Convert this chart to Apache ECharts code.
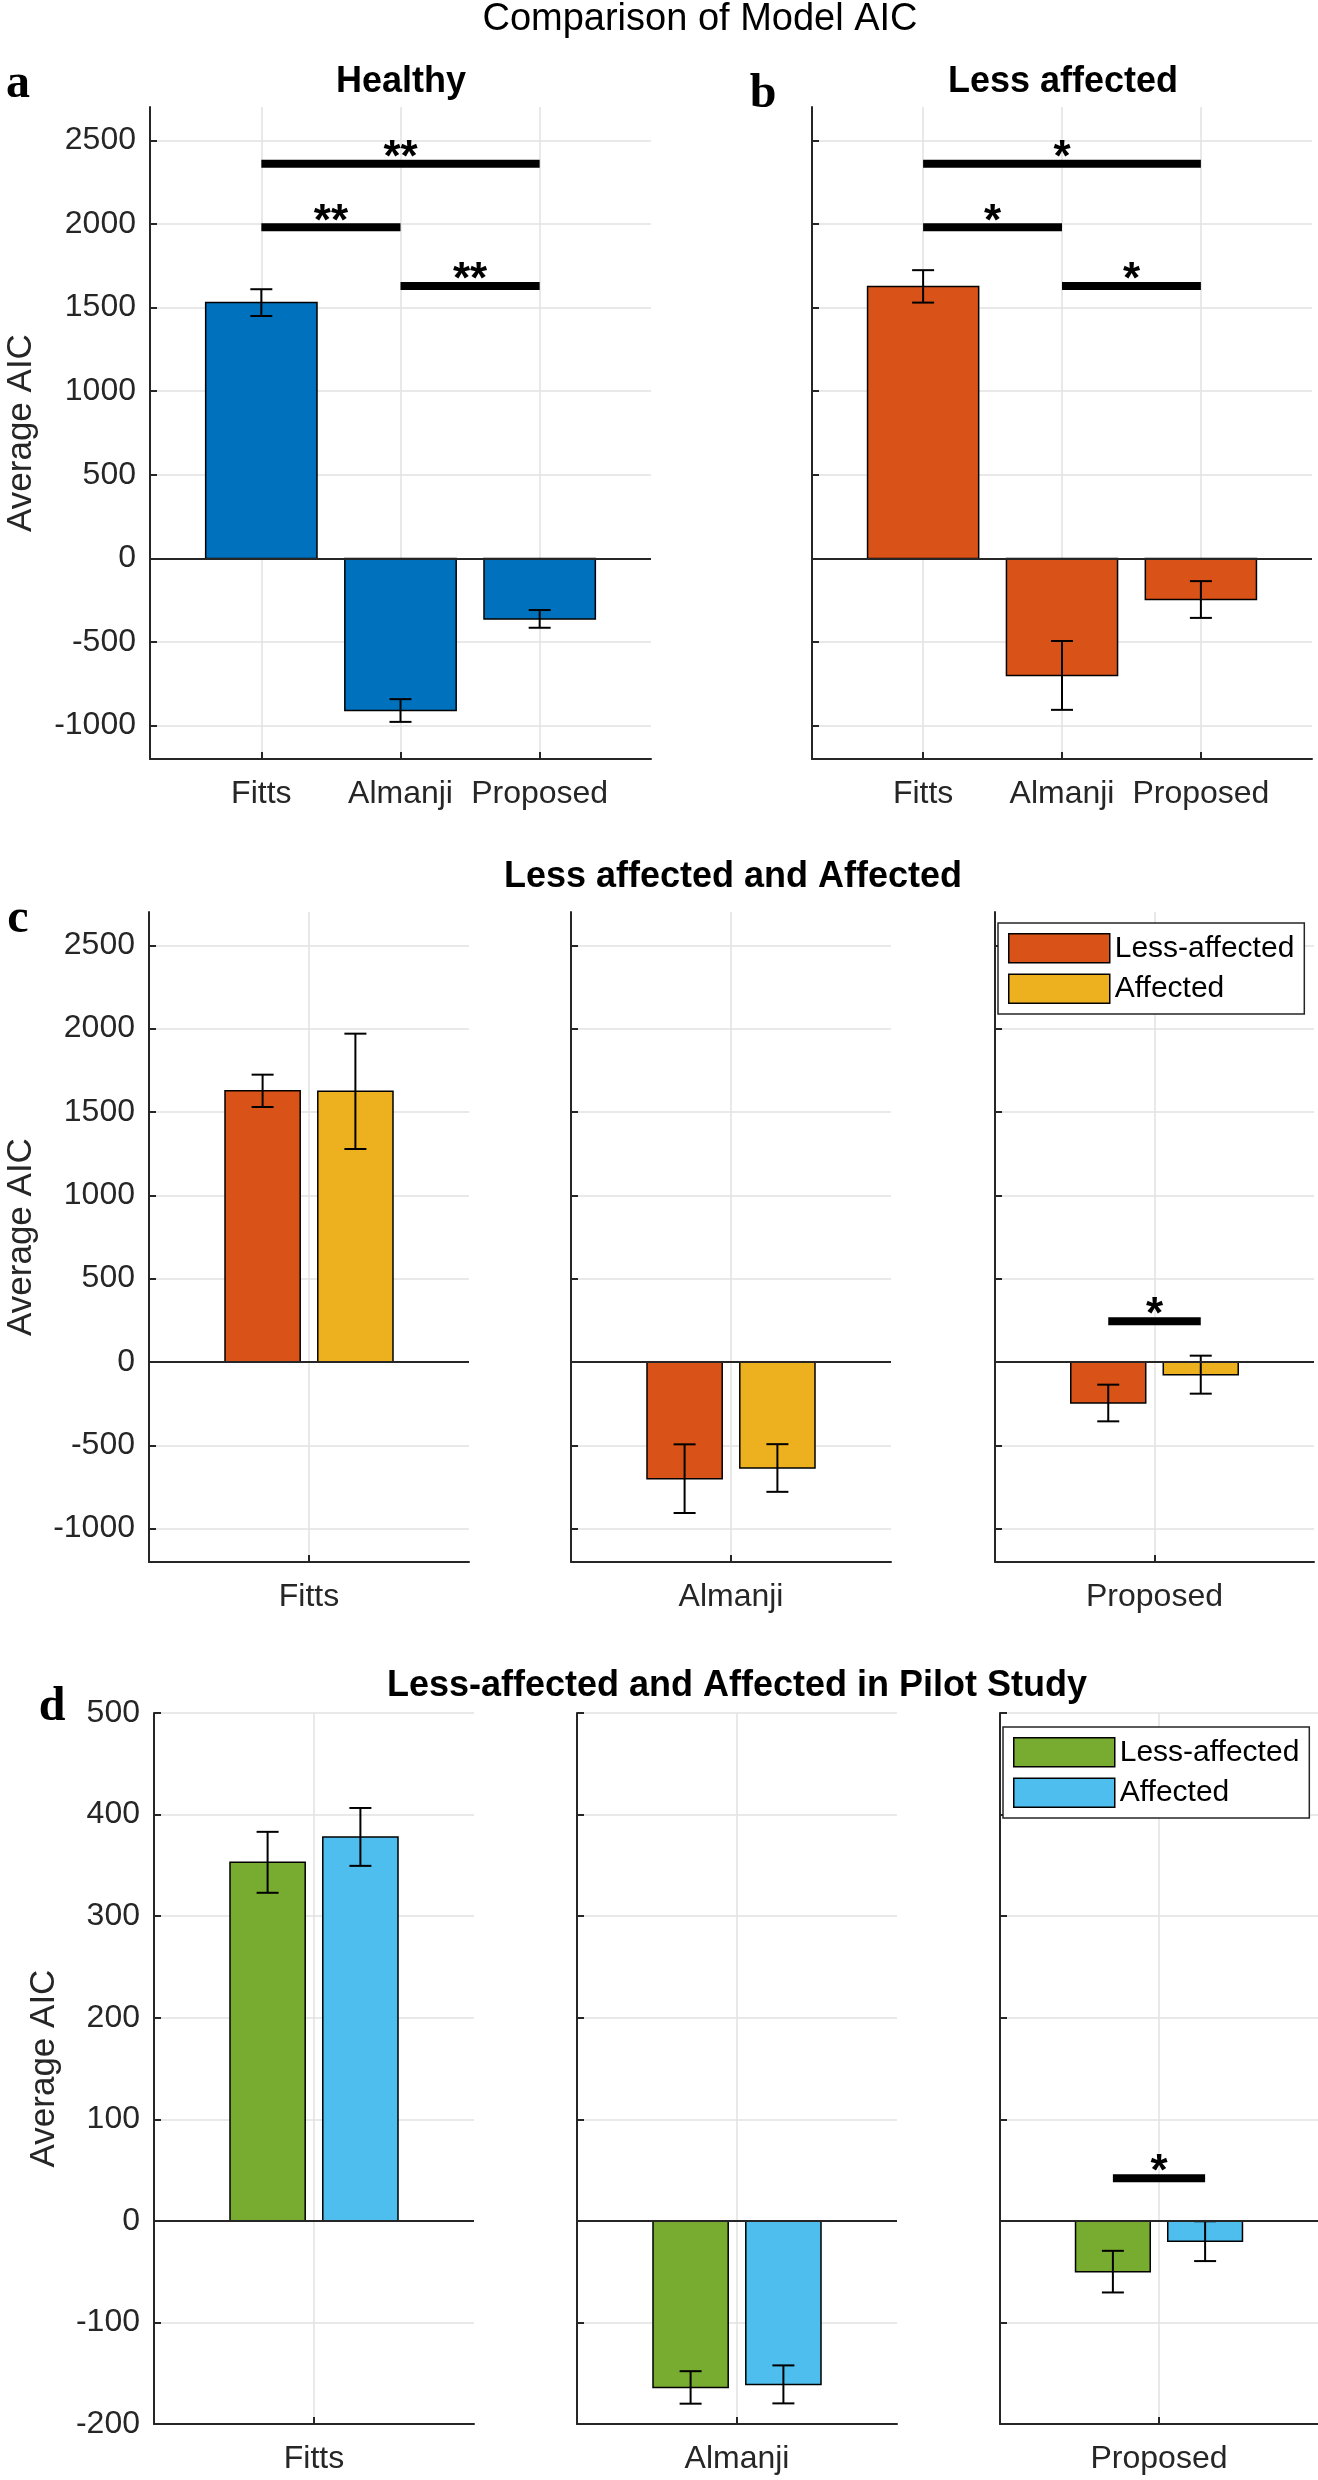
<!DOCTYPE html>
<html>
<head>
<meta charset="utf-8">
<script src="https://cdn.jsdelivr.net/npm/echarts@6/dist/echarts.min.js"></script>
<style>
  html, body { margin: 0; padding: 0; background: #fff; }
  #chart { width: 1318px; height: 2480px; }
</style>
</head>
<body>
<div id="chart"></div>
<script>
// ---------------- DATA ----------------
const models = ['Fitts', 'Almanji', 'Proposed'];
const aicTicks = [-1000, -500, 0, 500, 1000, 1500, 2000, 2500];
const pilotTicks = [-200, -100, 0, 100, 200, 300, 400, 500];

// (a) Healthy
const healthyMean = [1530, -910, -362];
const healthyErr = [80, 68, 53];
// (b) Less affected  (also the "Less-affected" bars in c)
const lessAffMean = [1627, -700, -246];
const lessAffErr = [97, 206, 110];
// (c) Affected
const affMean = [1624, -636, -76];
const affErr = [346, 143, 114];
// (d) Pilot study
const pilotLessMean = [353, -164, -50];
const pilotLessErr = [30, 16, 20.5];
const pilotAffMean = [378, -161, -20];
const pilotAffErr = [28.5, 18.7, 19.6];

// significance annotations
const sigPairsAB = [[1, 3], [1, 2], [2, 3]];
const sigLevelsAB = [2360, 1980, 1630];
const sigMarksA = ['**', '**', '**'];
const sigMarksB = ['*', '*', '*'];
const sigCatC = 2, sigLevelC = 245, sigMarkC = '*';
const sigCatD = 2, sigLevelD = 42, sigMarkD = '*';

// ---------------- STYLE / LAYOUT ----------------
const COL = { blue: '#0072BD', orange: '#D95319', yellow: '#EDB120', green: '#77AC30', cyan: '#4DBEEE' };
const AX = '#262626';
const GRIDC = '#e2e2e2';
const FONT = '"Liberation Sans", Arial, Helvetica, sans-serif';
const SERIF = '"Liberation Serif", "Times New Roman", serif';
const TICKFS = 32;
const GROUP_OFF = 0.145, GROUP_W = 0.235, SINGLE_W = 0.8, CAP = 11;

const grids = [
  { left: 150, top: 107, width: 501, height: 652 },   // 0 a
  { left: 812, top: 107, width: 500, height: 652 },   // 1 b
  { left: 149, top: 912, width: 320, height: 650 },   // 2 c1
  { left: 571, top: 912, width: 320, height: 650 },   // 3 c2
  { left: 995, top: 912, width: 319, height: 650 },   // 4 c3
  { left: 154, top: 1713, width: 320, height: 711 },  // 5 d1
  { left: 577, top: 1713, width: 320, height: 711 },  // 6 d2
  { left: 1000, top: 1713, width: 318, height: 711 }  // 7 d3
].map(g => Object.assign({ outerBoundsMode: 'none', containLabel: false }, g));

function xAxisFor(gi, min, max, tickVals, labelFn) {
  return {
    type: 'value', gridIndex: gi, min: min, max: max,
    axisLine: { show: true, onZero: false, lineStyle: { color: AX, width: 2 } },
    axisTick: { show: true, inside: true, length: 7, customValues: tickVals, lineStyle: { color: AX, width: 2 } },
    axisLabel: { show: true, customValues: tickVals, formatter: labelFn, margin: 19, fontSize: TICKFS, color: AX, fontFamily: FONT },
    splitLine: { show: true, lineStyle: { color: GRIDC, width: 1.5 } }
  };
}
function yAxisFor(gi, min, max, tickVals, showLabel, name, nameGap) {
  return {
    type: 'value', gridIndex: gi, min: min, max: max,
    axisLine: { show: true, onZero: false, lineStyle: { color: AX, width: 2 } },
    axisTick: { show: true, inside: true, length: 7, customValues: tickVals, lineStyle: { color: AX, width: 2 } },
    axisLabel: { show: showLabel, customValues: tickVals, formatter: v => String(v), margin: 14, fontSize: TICKFS, color: AX, fontFamily: FONT },
    splitLine: { show: true, lineStyle: { color: GRIDC, width: 1.5 } },
    name: name || '', nameLocation: 'middle', nameRotate: 90, nameGap: nameGap || 0,
    nameMoveOverlap: false,
    nameTextStyle: { fontSize: 35, color: AX, fontFamily: FONT }
  };
}

const xAxes = [], yAxes = [];
// a, b
xAxes.push(xAxisFor(0, 0.2, 3.8, [1, 2, 3], v => models[Math.round(v) - 1]));
xAxes.push(xAxisFor(1, 0.2, 3.8, [1, 2, 3], v => models[Math.round(v) - 1]));
yAxes.push(yAxisFor(0, -1200, 2700, aicTicks, true, 'Average AIC', 111));
yAxes.push(yAxisFor(1, -1200, 2700, aicTicks, false));
// c
for (let j = 0; j < 3; j++) {
  xAxes.push(xAxisFor(2 + j, 0.5, 1.5, [1], () => models[j]));
  yAxes.push(yAxisFor(2 + j, -1200, 2700, aicTicks, j === 0, j === 0 ? 'Average AIC' : '', 110));
}
// d
for (let j = 0; j < 3; j++) {
  xAxes.push(xAxisFor(5 + j, 0.5, 1.5, [1], () => models[j]));
  yAxes.push(yAxisFor(5 + j, -200, 500, pilotTicks, j === 0, j === 0 ? 'Average AIC' : '', 92));
}

// bar + error bar renderer (drawn through the axis scales)
function barRender(offset, width, color) {
  return function (params, api) {
    const x = api.value(0) + offset;
    const v = api.value(1), e = api.value(2);
    const a = api.coord([x - width / 2, 0]);
    const b = api.coord([x + width / 2, v]);
    const hi = api.coord([x, v + e]);
    const lo = api.coord([x, v - e]);
    const ls = { stroke: '#000', lineWidth: 2 };
    return {
      type: 'group',
      children: [
        { type: 'rect', shape: { x: Math.min(a[0], b[0]), y: Math.min(a[1], b[1]), width: Math.abs(b[0] - a[0]), height: Math.abs(b[1] - a[1]) },
          style: { fill: color, stroke: '#000', lineWidth: 1.5 } },
        { type: 'line', shape: { x1: hi[0], y1: hi[1], x2: lo[0], y2: lo[1] }, style: ls },
        { type: 'line', shape: { x1: hi[0] - CAP, y1: hi[1], x2: hi[0] + CAP, y2: hi[1] }, style: ls },
        { type: 'line', shape: { x1: lo[0] - CAP, y1: lo[1], x2: lo[0] + CAP, y2: lo[1] }, style: ls }
      ]
    };
  };
}
function sigRender(marks) {
  return function (params, api) {
    const p1 = api.coord([api.value(0), api.value(2)]);
    const p2 = api.coord([api.value(1), api.value(2)]);
    return {
      type: 'group',
      children: [
        { type: 'rect', shape: { x: p1[0], y: p1[1] - 4, width: p2[0] - p1[0], height: 8 }, style: { fill: '#000' } },
        { type: 'text', x: (p1[0] + p2[0]) / 2, y: p1[1] - 5,
          style: { text: marks[params.dataIndex], fill: '#000', font: 'bold 44px ' + FONT,
                   align: 'center', verticalAlign: 'middle', textAlign: 'center', textVerticalAlign: 'middle' } }
      ]
    };
  };
}
const zeroLine = {
  silent: true, symbol: ['none', 'none'], label: { show: false },
  lineStyle: { color: AX, width: 2, type: 'solid' }, emphasis: { disabled: true },
  data: [{ yAxis: 0 }]
};

const series = [];
function addBars(gi, name, color, data, offset, width) {
  series.push({
    type: 'custom', name: name, xAxisIndex: gi, yAxisIndex: gi,
    renderItem: barRender(offset, width, color),
    itemStyle: { color: color, borderColor: '#000', borderWidth: 1.5 },
    encode: { x: 0, y: 1 }, data: data, z: 3,
    markLine: zeroLine
  });
}
function addSig(gi, data, marks) {
  series.push({
    type: 'custom', xAxisIndex: gi, yAxisIndex: gi, renderItem: sigRender(marks),
    encode: { x: [0, 1], y: 2 }, data: data, z: 6, silent: true
  });
}

// a
addBars(0, 'Healthy', COL.blue, models.map((m, i) => [i + 1, healthyMean[i], healthyErr[i]]), 0, SINGLE_W);
addSig(0, sigPairsAB.map((p, i) => [p[0], p[1], sigLevelsAB[i]]), sigMarksA);
// b
addBars(1, 'Less affected', COL.orange, models.map((m, i) => [i + 1, lessAffMean[i], lessAffErr[i]]), 0, SINGLE_W);
addSig(1, sigPairsAB.map((p, i) => [p[0], p[1], sigLevelsAB[i]]), sigMarksB);
// c
for (let j = 0; j < 3; j++) {
  addBars(2 + j, 'Less-affected', COL.orange, [[1, lessAffMean[j], lessAffErr[j]]], -GROUP_OFF, GROUP_W);
  addBars(2 + j, 'Affected', COL.yellow, [[1, affMean[j], affErr[j]]], GROUP_OFF, GROUP_W);
}
addSig(2 + sigCatC, [[1 - GROUP_OFF, 1 + GROUP_OFF, sigLevelC]], [sigMarkC]);
// d
for (let j = 0; j < 3; j++) {
  addBars(5 + j, 'Pilot Less-affected', COL.green, [[1, pilotLessMean[j], pilotLessErr[j]]], -GROUP_OFF, GROUP_W);
  addBars(5 + j, 'Pilot Affected', COL.cyan, [[1, pilotAffMean[j], pilotAffErr[j]]], GROUP_OFF, GROUP_W);
}
addSig(5 + sigCatD, [[1 - GROUP_OFF, 1 + GROUP_OFF, sigLevelD]], [sigMarkD]);

function legendAt(left, top, names) {
  return {
    data: names, left: left, top: top, orient: 'vertical', selectedMode: false,
    itemWidth: 101, itemHeight: 29, itemGap: 10, padding: [10, 10, 10, 10],
    borderColor: AX, borderWidth: 1.5, backgroundColor: '#fff', icon: 'rect',
    itemStyle: { borderColor: '#000', borderWidth: 1.5 },
    textStyle: { fontSize: 30, color: '#000', fontFamily: FONT },
    formatter: n => n.replace('Pilot ', ''), z: 10
  };
}

function txt(text, x, y, font) {
  return {
    type: 'text', x: x, y: y, silent: true,
    style: { text: text, font: font, fill: '#000', align: 'center', verticalAlign: 'middle',
             textAlign: 'center', textVerticalAlign: 'middle' }
  };
}

const option = {
  animation: false,
  backgroundColor: '#fff',
  textStyle: { fontFamily: FONT },
  grid: grids,
  xAxis: xAxes,
  yAxis: yAxes,
  series: series,
  legend: [
    legendAt(998, 923, ['Less-affected', 'Affected']),
    legendAt(1003, 1727, ['Pilot Less-affected', 'Pilot Affected'])
  ],
  graphic: [
    txt('Comparison of Model AIC', 700, 20, 'normal 38px ' + FONT),
    txt('Healthy', 401, 82, 'bold 36px ' + FONT),
    txt('Less affected', 1063, 82, 'bold 36px ' + FONT),
    txt('Less affected and Affected', 733, 877, 'bold 36px ' + FONT),
    txt('Less-affected and Affected in Pilot Study', 737, 1686, 'bold 36px ' + FONT),
    txt('a', 18, 85, 'bold 48px ' + SERIF),
    txt('b', 763, 95, 'bold 48px ' + SERIF),
    txt('c', 18, 920, 'bold 48px ' + SERIF),
    txt('d', 52, 1708, 'bold 48px ' + SERIF)
  ]
};

const chart = echarts.init(document.getElementById('chart'), null, { renderer: 'canvas' });
chart.setOption(option);
</script>
</body>
</html>
